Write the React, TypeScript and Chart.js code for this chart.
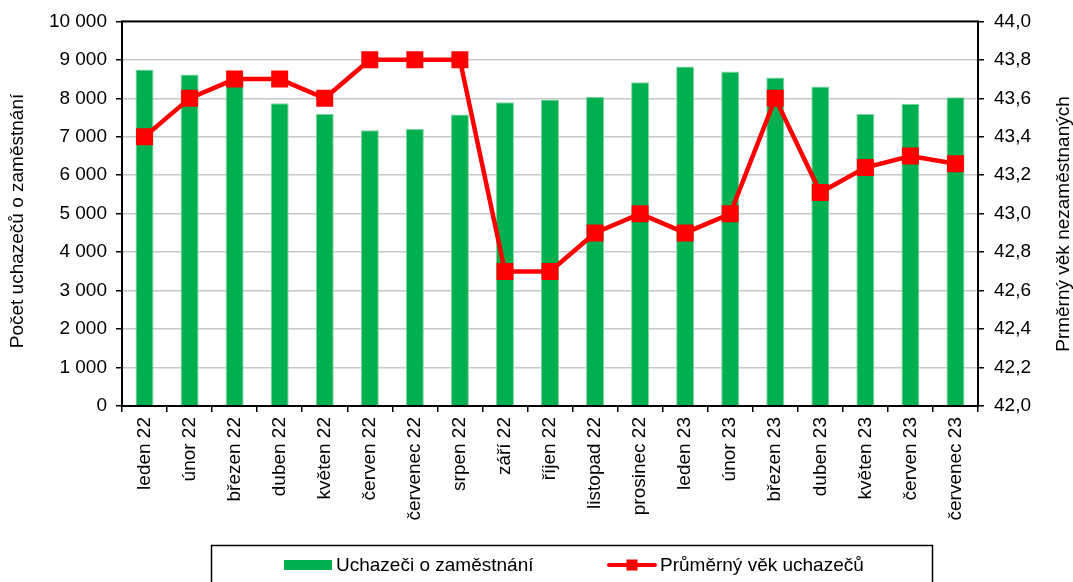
import React, { useEffect, useRef } from "react";
import { Chart, registerables } from "chart.js";

Chart.register(...registerables);

const categories = [
  "leden 22", "únor 22", "březen 22", "duben 22", "květen 22", "červen 22",
  "červenec 22", "srpen 22", "září 22", "říjen 22", "listopad 22", "prosinec 22",
  "leden 23", "únor 23", "březen 23", "duben 23", "květen 23", "červen 23", "červenec 23",
];
const applicants = [
  8750, 8620, 8450, 7870, 7600, 7170, 7210, 7580, 7900, 7970, 8040, 8420,
  8830, 8700, 8540, 8310, 7590, 7860, 8030,
];
const averageAge = [
  43.4, 43.6, 43.7, 43.7, 43.6, 43.8, 43.8, 43.8, 42.7, 42.7, 42.9, 43.0,
  42.9, 43.0, 43.6, 43.11, 43.24, 43.3, 43.26,
];
const barLabel = "Uchazeči o zaměstnání";
const lineLabel = "Průměrný věk uchazečů";
const leftTitle = "Počet uchazečů o zaměstnání";
const rightTitle = "Prměrný věk nezaměstnaných";

const FONT = "'Liberation Sans', Arial, sans-serif";
const GREEN = "#00b050";
const RED = "#ff0000";

const fmtThousands = (v: number) =>
  String(Math.round(v)).replace(/\B(?=(\d{3})+(?!\d))/g, " ");

const decorPlugin = {
  id: "decor",
  afterDraw(chart: any) {
    const ctx = chart.ctx;
    const ca = chart.chartArea;
    ctx.save();
    ctx.strokeStyle = "#000";
    ctx.lineWidth = 2;
    ctx.strokeRect(ca.left, ca.top, ca.right - ca.left, ca.bottom - ca.top);

    ctx.fillStyle = "#000";
    ctx.font = `19px ${FONT}`;
    ctx.textAlign = "center";
    ctx.textBaseline = "middle";
    const cy = 221;
    ctx.save();
    ctx.translate(18, cy);
    ctx.rotate(-Math.PI / 2);
    ctx.fillText(leftTitle, 0, 0);
    ctx.restore();
    ctx.save();
    ctx.translate(1064, cy + 3);
    ctx.rotate(-Math.PI / 2);
    ctx.fillText(rightTitle, 0, 0);
    ctx.restore();

    ctx.lineWidth = 1.5;
    ctx.strokeStyle = "#000";
    ctx.strokeRect(211.5, 545.5, 721, 60);
    const ly = 565;
    ctx.fillStyle = GREEN;
    ctx.fillRect(284, ly - 5, 48, 10);
    ctx.fillStyle = "#000";
    ctx.textAlign = "left";
    ctx.fillText(chart.data.datasets[1].label, 336, ly + 1);
    ctx.strokeStyle = RED;
    ctx.lineWidth = 4;
    ctx.lineCap = "round";
    ctx.beginPath();
    ctx.moveTo(609, ly);
    ctx.lineTo(655, ly);
    ctx.stroke();
    ctx.fillStyle = RED;
    ctx.fillRect(632 - 5.5, ly - 5.5, 11, 11);
    ctx.fillStyle = "#000";
    ctx.fillText(chart.data.datasets[0].label, 660, ly + 1);
    ctx.restore();
  },
};

export default function App() {
  const ref = useRef<HTMLCanvasElement | null>(null);
  useEffect(() => {
    if (!ref.current) return;
    const chart = new Chart(ref.current, {
      type: "bar",
      data: {
        labels: categories,
        datasets: [
          {
            type: "line",
            label: lineLabel,
            data: averageAge,
            yAxisID: "y1",
            borderColor: RED,
            backgroundColor: RED,
            borderWidth: 4.5,
            pointStyle: "rect",
            pointRadius: 12,
            pointBorderWidth: 0,
            pointBackgroundColor: RED,
            tension: 0,
            order: 0,
          } as any,
          {
            type: "bar",
            label: barLabel,
            data: applicants,
            yAxisID: "y",
            backgroundColor: GREEN,
            borderColor: "#7fd6a0",
            borderWidth: 1,
            barPercentage: 0.4,
            categoryPercentage: 1,
            order: 1,
          } as any,
        ],
      },
      options: {
        responsive: false,
        animation: false,
        layout: { padding: { top: 21, left: 0, right: 0, bottom: 0 } },
        plugins: {
          legend: { display: false },
          tooltip: { enabled: false },
          title: { display: false },
        },
        scales: {
          x: {
            offset: true,
            grid: {
              display: true,
              drawOnChartArea: false,
              drawTicks: true,
              tickLength: 6,
              color: "#000",
              offset: true,
              lineWidth: 1.5,
            },
            border: { display: false },
            ticks: {
              color: "#000",
              font: { family: FONT, size: 19 },
              maxRotation: 90,
              minRotation: 90,
              padding: 5,
              autoSkip: false,
            },
            afterFit: (s: any) => {
              s.height = 176;
            },
          },
          y: {
            position: "left",
            min: 0,
            max: 10000,
            ticks: {
              stepSize: 1000,
              color: "#000",
              font: { family: FONT, size: 19 },
              padding: 9,
              callback: (v: any) => fmtThousands(Number(v)),
            },
            grid: {
              color: "#c8c8c8",
              lineWidth: 1.5,
              tickColor: "#000",
              tickLength: 6,
            },
            border: { display: false },
            afterFit: (s: any) => {
              s.width = 122;
            },
          },
          y1: {
            position: "right",
            min: 42,
            max: 44,
            ticks: {
              stepSize: 0.2,
              color: "#000",
              font: { family: FONT, size: 19 },
              padding: 10,
              callback: (v: any) => Number(v).toFixed(1).replace(".", ","),
            },
            grid: {
              drawOnChartArea: false,
              color: "#000",
              tickColor: "#000",
              tickLength: 6,
              lineWidth: 1.5,
            },
            border: { display: false },
            afterFit: (s: any) => {
              s.width = 95;
            },
          },
        },
      } as any,
      plugins: [decorPlugin],
    });
    return () => chart.destroy();
  }, []);
  return (
    <div style={{ position: "absolute", left: 0, top: 0, width: 1073, height: 582, background: "#fff" }}>
      <canvas ref={ref} width={1073} height={582} style={{ display: "block" }} />
    </div>
  );
}
